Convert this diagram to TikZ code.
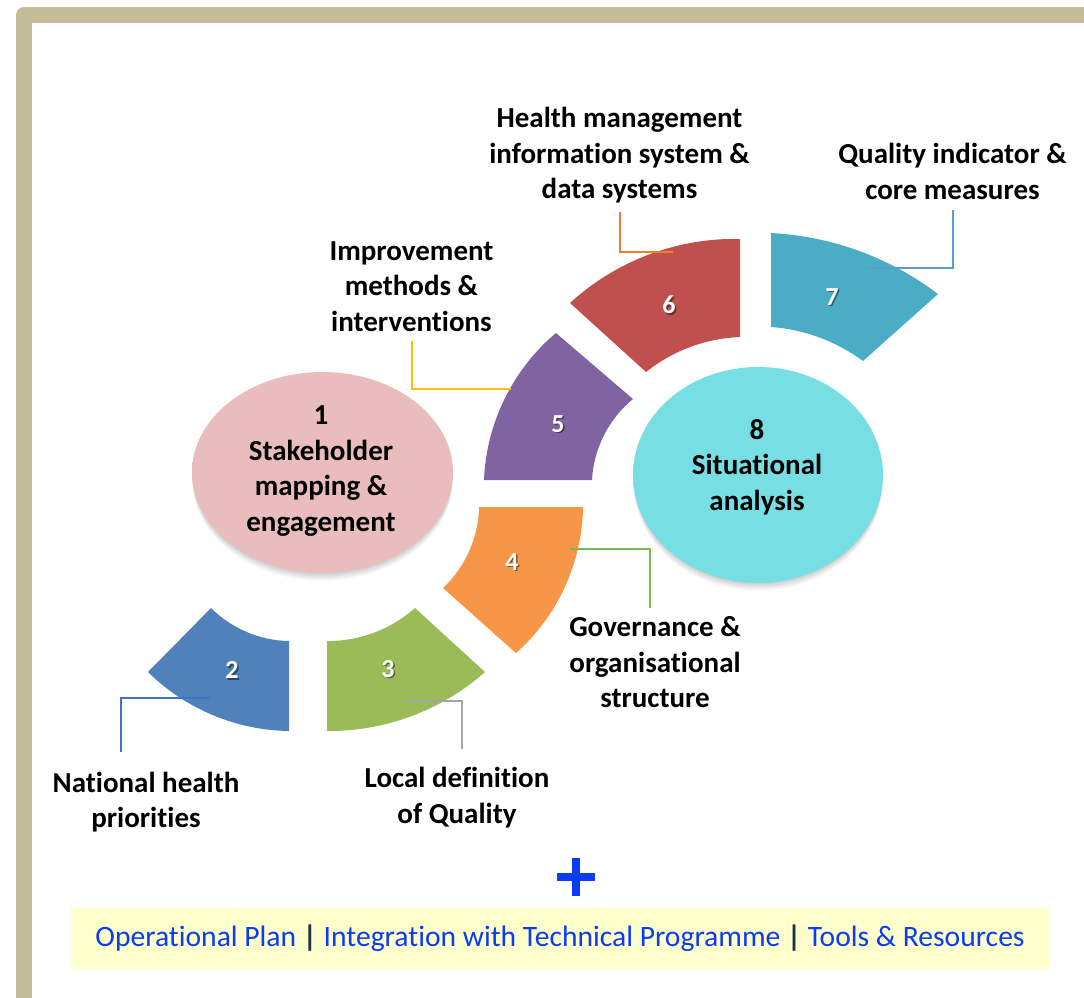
\documentclass[tikz,border=0pt]{standalone}
\usepackage{fontspec}
\setmainfont{Carlito}[Ligatures={NoCommon,NoContextual,NoRequired}, Contextuals=NoAlternate]
\usetikzlibrary{calc,shapes.geometric}

\definecolor{frameTan}{HTML}{C4BD97}
\definecolor{segBlue}{HTML}{4F81BD}
\definecolor{segGreen}{HTML}{9BBB59}
\definecolor{segOrange}{HTML}{F79646}
\definecolor{segPurple}{HTML}{8064A2}
\definecolor{segRed}{HTML}{C0504D}
\definecolor{segAqua}{HTML}{4BACC6}
\definecolor{lineOrange}{HTML}{ED7D31}
\definecolor{lineBlue}{HTML}{5B9BD5}
\definecolor{lineGold}{HTML}{FFC000}
\definecolor{lineGreen}{HTML}{7DB552}
\definecolor{lineNavy}{HTML}{4472C4}
\definecolor{lineGray}{HTML}{A5A5A5}
\definecolor{planBlue}{HTML}{0A3CF5}
\definecolor{planFill}{HTML}{FFFFCC}
\definecolor{sepNavy}{HTML}{1F2F45}
\definecolor{pinkC}{HTML}{E9BDBD}
\definecolor{pinkM}{HTML}{E2B0B0}
\definecolor{pinkE}{HTML}{C99596}
\definecolor{cyanC}{HTML}{77DFE3}
\definecolor{cyanM}{HTML}{72DCE1}
\definecolor{cyanE}{HTML}{55C0C6}

\pgfdeclareradialshading{pinkball}{\pgfpoint{0bp}{0bp}}{%
  color(0bp)=(pinkC); color(36bp)=(pinkC); color(46bp)=(pinkM); color(50bp)=(pinkE)}
\pgfdeclareradialshading{cyanball}{\pgfpoint{0bp}{0bp}}{%
  color(0bp)=(cyanC); color(36bp)=(cyanC); color(46bp)=(cyanM); color(50bp)=(cyanE)}

\tikzset{
  lbl/.style={font=\fontsize{29}{35.5}\selectfont\bfseries, align=center, inner sep=0pt},
  num/.style={font=\fontsize{26}{30}\selectfont\bfseries, text=white, inner sep=0pt},
  numshade/.style={font=\fontsize{26}{30}\selectfont\bfseries, text=black, opacity=0.45, inner sep=0pt},
  ldr/.style={line width=2.2pt},
  arcL/.style={bend left=#1, looseness=0.88},
  arcR/.style={bend right=#1, looseness=0.88},
  ball/.style={ellipse, inner sep=0pt, minimum width=#1},
}

\begin{document}
\begin{tikzpicture}[x=1pt, y=1pt]
  \useasboundingbox (0,0) rectangle (1084,-997);
  \clip (0,0) rectangle (1084,-997);

  % outer frame
  \draw[frameTan, line width=16, line join=round] (24,-15) rectangle (1110,-1010);

  % soft drop shadows under the two ellipses
  \foreach \o/\d in {0.05/2,0.05/4,0.05/6,0.04/8} {
    \fill[black, opacity=\o] (322.5,-472.5-\d) ellipse [x radius=130, y radius=100];
    \fill[black, opacity=\o] (758,-475-\d) ellipse [x radius=124.5, y radius=107.5];
  }

  % central ellipses
  \node[ball=261pt, minimum height=201pt, shading=pinkball] (e1) at (322.5,-472.5) {};
  \node[ball=250pt, minimum height=216pt, shading=cyanball] (e8) at (758,-475) {};
  \node[lbl] (t1) at (321,-471) {1\\Stakeholder\\mapping \&\\engagement};
  \node[lbl] (t8) at (757,-467) {8\\Situational\\analysis};

  % block-arc segments
  \fill[segBlue]   (289,-731) to[arcL=22] (148,-672) -- (211,-608) to[arcR=22] (289,-641) -- cycle;
  \fill[segGreen]  (485,-672) to[arcL=21] (327,-731) -- (327,-641) to[arcR=21] (415,-608) -- cycle;
  \fill[segOrange] (583,-507) to[arcL=24] (516,-653) -- (443,-588) to[arcR=23] (479,-507) -- cycle;
  \fill[segPurple] (484,-480) to[arcL=24] (556,-333) -- (633,-399) to[arcR=24] (592,-480) -- cycle;
  \fill[segRed]    (570,-303) to[arcL=22] (740,-239) -- (740,-337) to[arcR=18] (646,-372) -- cycle;
  \fill[segAqua]   (771,-233) to[arcL=17] (938,-294) -- (863,-361) to[arcR=16] (771,-327) -- cycle;

  % segment numbers
  \foreach \n/\x/\y in {2/232/670, 3/388/669, 4/512/562, 5/558/424, 6/669/305, 7/832/297} {
    \node[numshade] at (\x+1.5,-\y-1.5) {\n};
    \node[num] (n\n) at (\x,-\y) {\n};
  }

  % labels
  \node[lbl] (lab2) at (146,-802) {National health\\priorities};
  \node[lbl] (lab3) at (457,-797.5) {Local definition\\of Quality};
  \node[lbl] (lab4) at (655,-662.5) {Governance \&\\organisational\\structure};
  \node[lbl] (lab5) at (411.5,-286.5) {Improvement\\methods \&\\interventions};
  \node[lbl] (lab6) at (619.5,-155.5) {Health management\\information system \&\\data systems};
  \node[lbl] (lab7) at (952.5,-171.5) {Quality indicator \&\\core measures};

  % leader lines
  \coordinate (c2a) at (210,-698);  \coordinate (c2b) at (121,-752);
  \coordinate (c3a) at (403,-701);  \coordinate (c3b) at (462,-749);
  \coordinate (c4a) at (570,-549);  \coordinate (c4b) at (650,-608);
  \coordinate (c5a) at (412,-341);  \coordinate (c5b) at (511,-389);
  \coordinate (c6a) at (620,-212);  \coordinate (c6b) at (673,-252);
  \coordinate (c7a) at (953,-210);  \coordinate (c7b) at (867,-268);
  \draw[ldr, lineNavy]   (c2a) -| (c2b);
  \draw[ldr, lineGray]   (c3a) -| (c3b);
  \draw[ldr, lineGreen]  (c4a) -| (c4b);
  \draw[ldr, lineGold]   (c5a) |- (c5b);
  \draw[ldr, lineOrange] (c6a) |- (c6b);
  \draw[ldr, lineBlue]   (c7a) |- (c7b);

  % plus sign
  \coordinate (pl) at (575.5,-877);
  \draw[planBlue, line width=8] ($(pl)+(-19,0)$) -- ($(pl)+(19,0)$);
  \draw[planBlue, line width=8] ($(pl)+(0,-19)$) -- ($(pl)+(0,19)$);

  % bottom banner
  \node[fill=planFill, minimum width=978pt, minimum height=61pt, inner sep=0pt] (plan) at (560,-938.5) {};
  \node[font=\fontsize{29.6}{35}\selectfont, text=planBlue, inner sep=0pt] (plantext) at (560,-938) {Operational Plan {\color{sepNavy}\bfseries|} Integration with Technical Programme {\color{sepNavy}\bfseries|} Tools \& Resources};
\end{tikzpicture}
\end{document}
